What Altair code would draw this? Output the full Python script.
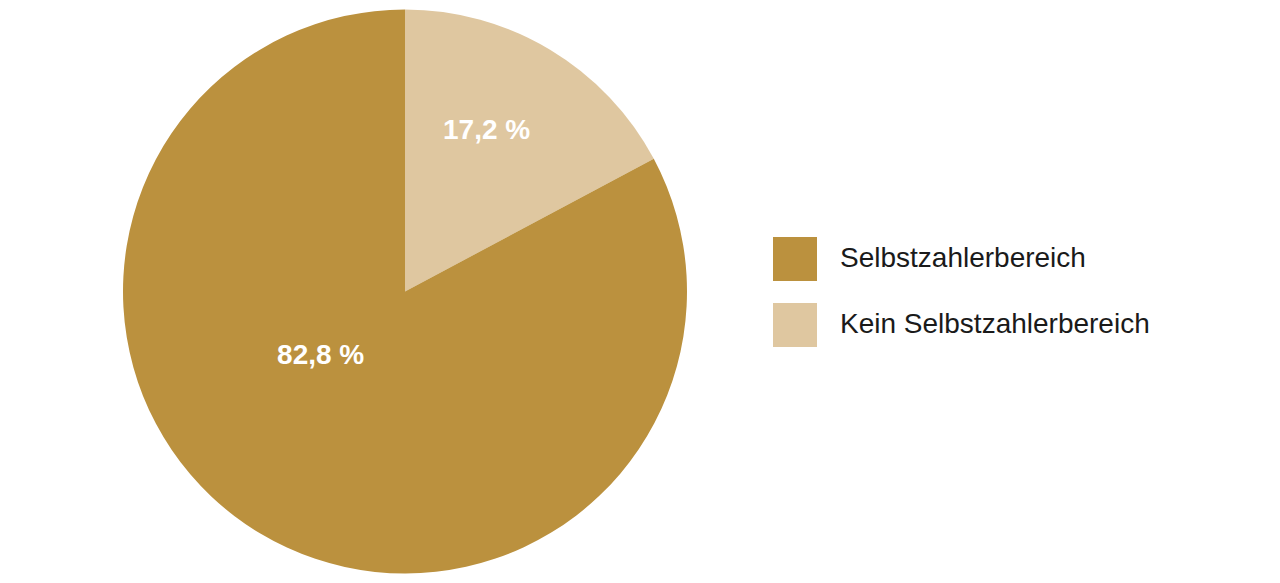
import altair as alt
import pandas as pd

categories = ["Kein Selbstzahlerbereich", "Selbstzahlerbereich"]
values = [17.2, 82.8]
labels = ["17,2 %", "82,8 %"]
slice_order = [1, 2]

legend_order = ["Selbstzahlerbereich", "Kein Selbstzahlerbereich"]
colors = ["#BB913E", "#DFC7A0"]

df = pd.DataFrame({"category": categories, "value": values, "label": labels, "ord": slice_order})

base = alt.Chart(df).encode(
    theta=alt.Theta("value:Q", stack=True),
    order=alt.Order("ord:Q"),
    color=alt.Color(
        "category:N",
        scale=alt.Scale(domain=legend_order, range=colors),
        legend=alt.Legend(
            title=None,
            orient="none",
            legendX=765,
            legendY=229,
            symbolType="square",
            symbolSize=1936,
            symbolStrokeWidth=0,
            symbolOpacity=1,
            rowPadding=22,
            labelFont="Liberation Sans",
            labelFontSize=28,
            labelColor="#1a1a1a",
            labelOffset=23,
            labelLimit=0,
            padding=0,
        ),
    ),
)

arc = base.mark_arc(outerRadius=282, stroke=None)

t1 = base.mark_text(
    radius=180, thetaOffset=-0.07, font="Liberation Sans", fontSize=28,
    fontWeight="bold", color="white"
).encode(
    text=alt.condition(alt.datum.ord == 1, alt.Text("label:N"), alt.value("")),
    color=alt.value("white"),
)

t2 = base.mark_text(
    radius=106, thetaOffset=0.38, font="Liberation Sans", fontSize=28,
    fontWeight="bold", color="white"
).encode(
    text=alt.condition(alt.datum.ord == 2, alt.Text("label:N"), alt.value("")),
    color=alt.value("white"),
)

chart = alt.layer(arc, t1, t2).properties(
    width=794, height=567, background="white", padding=0
).configure_view(stroke=None)

chart.save("out.html", embed_options={"renderer": "svg", "actions": False})
